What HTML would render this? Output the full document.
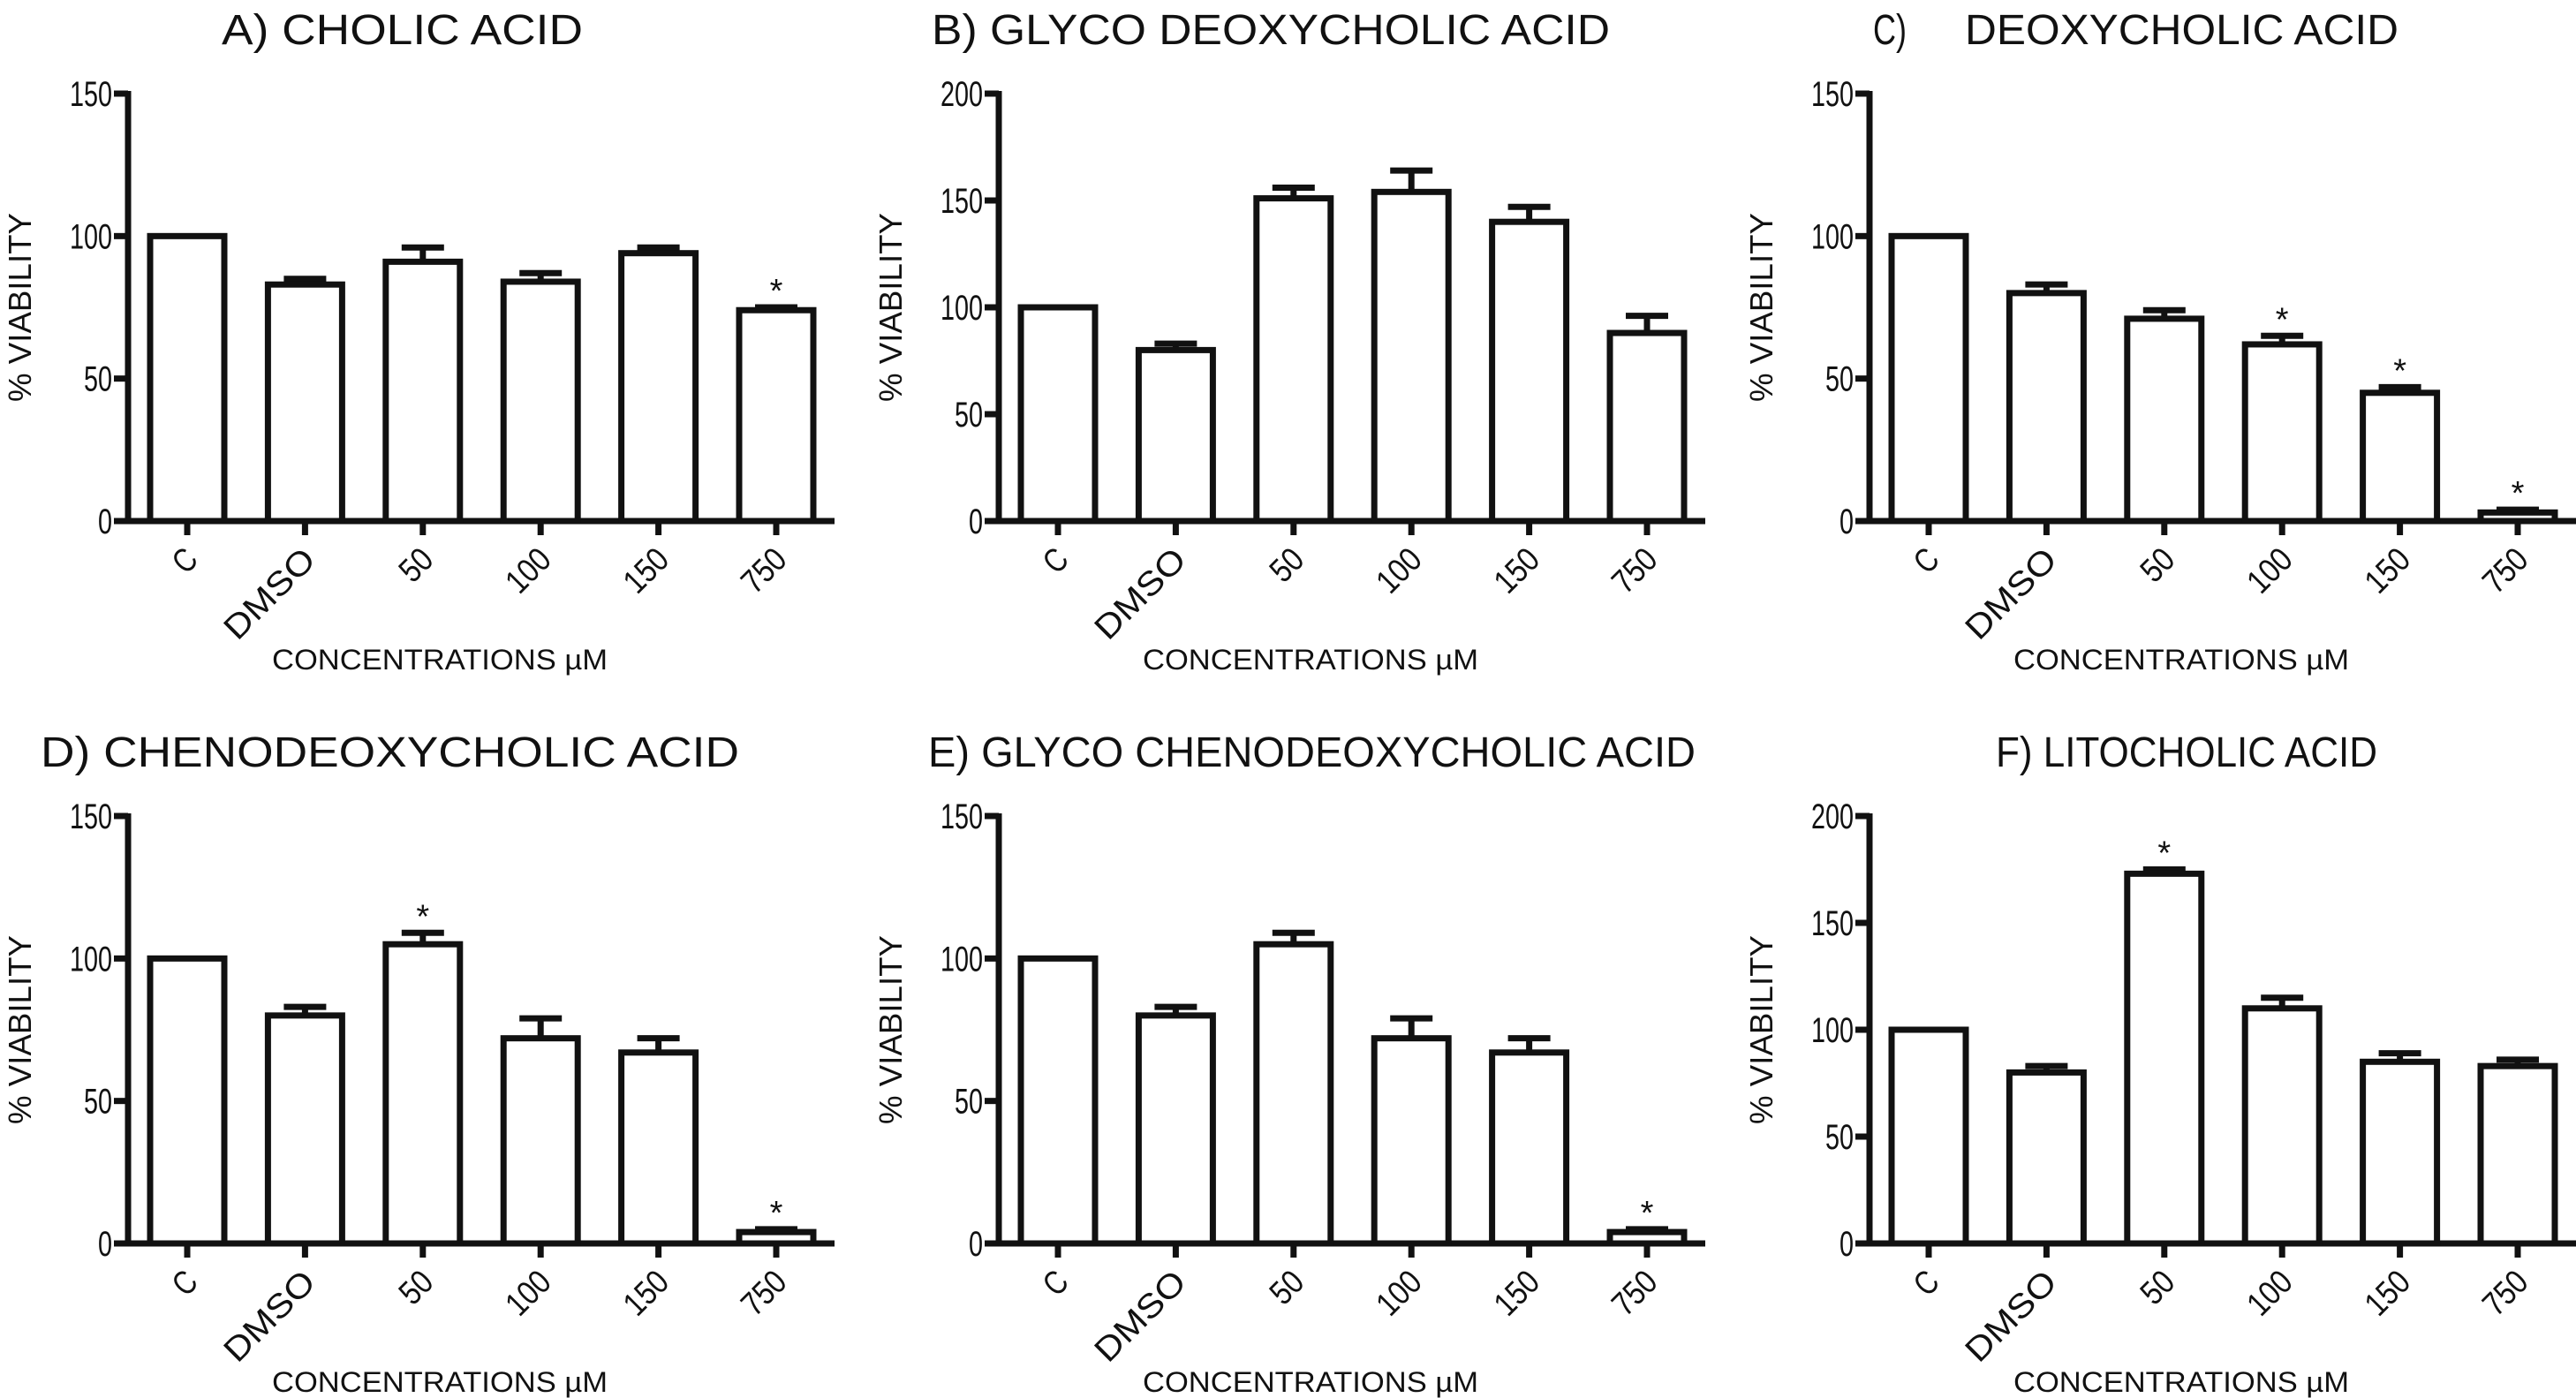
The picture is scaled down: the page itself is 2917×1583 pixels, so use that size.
<!DOCTYPE html>
<html><head><meta charset="utf-8"><style>
html,body{margin:0;padding:0;background:#fff;}
svg{display:block;font-family:"Liberation Sans",sans-serif;}
</style></head><body>
<svg id="fig" width="2917" height="1583" viewBox="0 0 2917 1583"></svg>
<script>
const categories = ["C","DMSO","50","100","150","750"];
const titles = ["A)  CHOLIC ACID","B) GLYCO DEOXYCHOLIC ACID","DEOXYCHOLIC ACID","D) CHENODEOXYCHOLIC ACID","E) GLYCO CHENODEOXYCHOLIC ACID","F) LITOCHOLIC ACID"];
const yMaxes = [150,200,150,150,150,200];
const ticks150 = [0,50,100,150];
const ticks200 = [0,50,100,150,200];
const valsA = [100,83,91,84,94,74];
const errA  = [100,85,96,87,96,75];
const starA = [0,0,0,0,0,1];
const valsB = [100,80,151,154,140,88];
const errB  = [100,83,156,164,147,96];
const starB = [0,0,0,0,0,0];
const valsC = [100,80,71,62,45,3];
const errC  = [100,83,74,65,47,4];
const starC = [0,0,0,1,1,1];
const valsD = [100,80,105,72,67,4];
const errD  = [100,83,109,79,72,5];
const starD = [0,0,1,0,0,1];
const valsE = [100,80,105,72,67,4];
const errE  = [100,83,109,79,72,5];
const starE = [0,0,0,0,0,1];
const valsF = [100,80,173,110,85,83];
const errF  = [100,83,175,115,89,86];
const starF = [0,0,1,0,0,0];

const NS="http://www.w3.org/2000/svg";
const svg=document.getElementById('fig');
function mk(tag,attrs,parent){const e=document.createElementNS(NS,tag);for(const k in attrs)e.setAttribute(k,attrs[k]);(parent||svg).appendChild(e);return e;}

const panels=[
 {v:valsA,e:errA,s:starA,ox:145,oy:590,tx:251,tw:409,ty:50},
 {v:valsB,e:errB,s:starB,ox:1131,oy:590,tx:1055,tw:768,ty:50},
 {v:valsC,e:errC,s:starC,ox:2117,oy:590,tx:2225,tw:491,ty:50},
 {v:valsD,e:errD,s:starD,ox:145,oy:1408,tx:46,tw:791,ty:868},
 {v:valsE,e:errE,s:starE,ox:1131,oy:1408,tx:1051,tw:869,ty:868},
 {v:valsF,e:errF,s:starF,ox:2117,oy:1408,tx:2260,tw:432,ty:868}
];
const plotH=484, axisLen=800, step=133.4, first=67, barW=84, sw=7;
panels.forEach((p,pi)=>{
  const g=mk('g',{});
  
  
  const ymax=yMaxes[pi];
  const y=v=>p.oy-v/ymax*plotH;
  const x=i=>p.ox+first+i*step;
  const t=mk('text',{x:p.tx,y:p.ty,'font-size':48,textLength:p.tw,lengthAdjust:'spacingAndGlyphs',fill:'#111'},g);
  t.textContent=titles[pi];
  
  
  if(pi===2){
    const t2=mk('text',{x:2121,y:p.ty,'font-size':48,textLength:38,lengthAdjust:'spacingAndGlyphs',fill:'#111'},g);
    t2.textContent='C)';
    
    
  }
  const ax=mk('path',{d:`M${p.ox} ${y(ymax)-3}V${p.oy}H${p.ox+axisLen}`,stroke:'#111','stroke-width':sw,fill:'none'},g);
  
  
  const tk=ymax===200?ticks200:ticks150;
  tk.forEach(v=>{
    mk('line',{x1:p.ox-16,x2:p.ox,y1:y(v),y2:y(v),stroke:'#111','stroke-width':sw},g);
    const l=mk('text',{x:p.ox-18,y:y(v)+14,'font-size':40,'text-anchor':'end',textLength:String(v).length*16,lengthAdjust:'spacingAndGlyphs',fill:'#111'},g);
    l.textContent=v;
    
    
  });
  const yl=mk('text',{x:0,y:0,'font-size':36,'text-anchor':'middle',transform:`translate(${p.ox-110},${p.oy-242}) rotate(-90)`,textLength:214,lengthAdjust:'spacingAndGlyphs',fill:'#111'},g);
  yl.textContent='% VIABILITY';
  
  
  const xl=mk('text',{x:p.ox+353,y:p.oy+168,'font-size':32,'text-anchor':'middle',textLength:380,lengthAdjust:'spacingAndGlyphs',fill:'#111'},g);
  xl.textContent='CONCENTRATIONS µM';
  
  
  categories.forEach((c,i)=>{
    const cx=x(i);
    mk('line',{x1:cx,x2:cx,y1:p.oy,y2:p.oy+16,stroke:'#111','stroke-width':sw},g);
    const tl=c.length===1?22:(isNaN(Number(c))?c.length*32:c.length*18);
    const cl=mk('text',{x:0,y:0,'font-size':38,'text-anchor':'end',textLength:tl,lengthAdjust:'spacingAndGlyphs',transform:`translate(${cx+14},${p.oy+46}) rotate(-45)`,fill:'#111'},g);
    cl.textContent=c;
    
    
    if(p.e[i]>p.v[i]){
      const eb=mk('path',{d:`M${cx} ${y(p.v[i])}V${y(p.e[i])}M${cx-24} ${y(p.e[i])}H${cx+24}`,stroke:'#111','stroke-width':sw,fill:'none'},g);
      
      
    }
    const r=mk('rect',{x:cx-barW/2,y:y(p.v[i]),width:barW,height:p.oy-y(p.v[i]),fill:'#fff',stroke:'#111','stroke-width':sw},g);
    
    
    if(p.s[i]){
      const st=mk('text',{x:cx,y:y(p.e[i])-6,'font-size':38,'text-anchor':'middle',fill:'#111'},g);
      st.textContent='*';
      
      
    }
  });
});
</script>
</body></html>
